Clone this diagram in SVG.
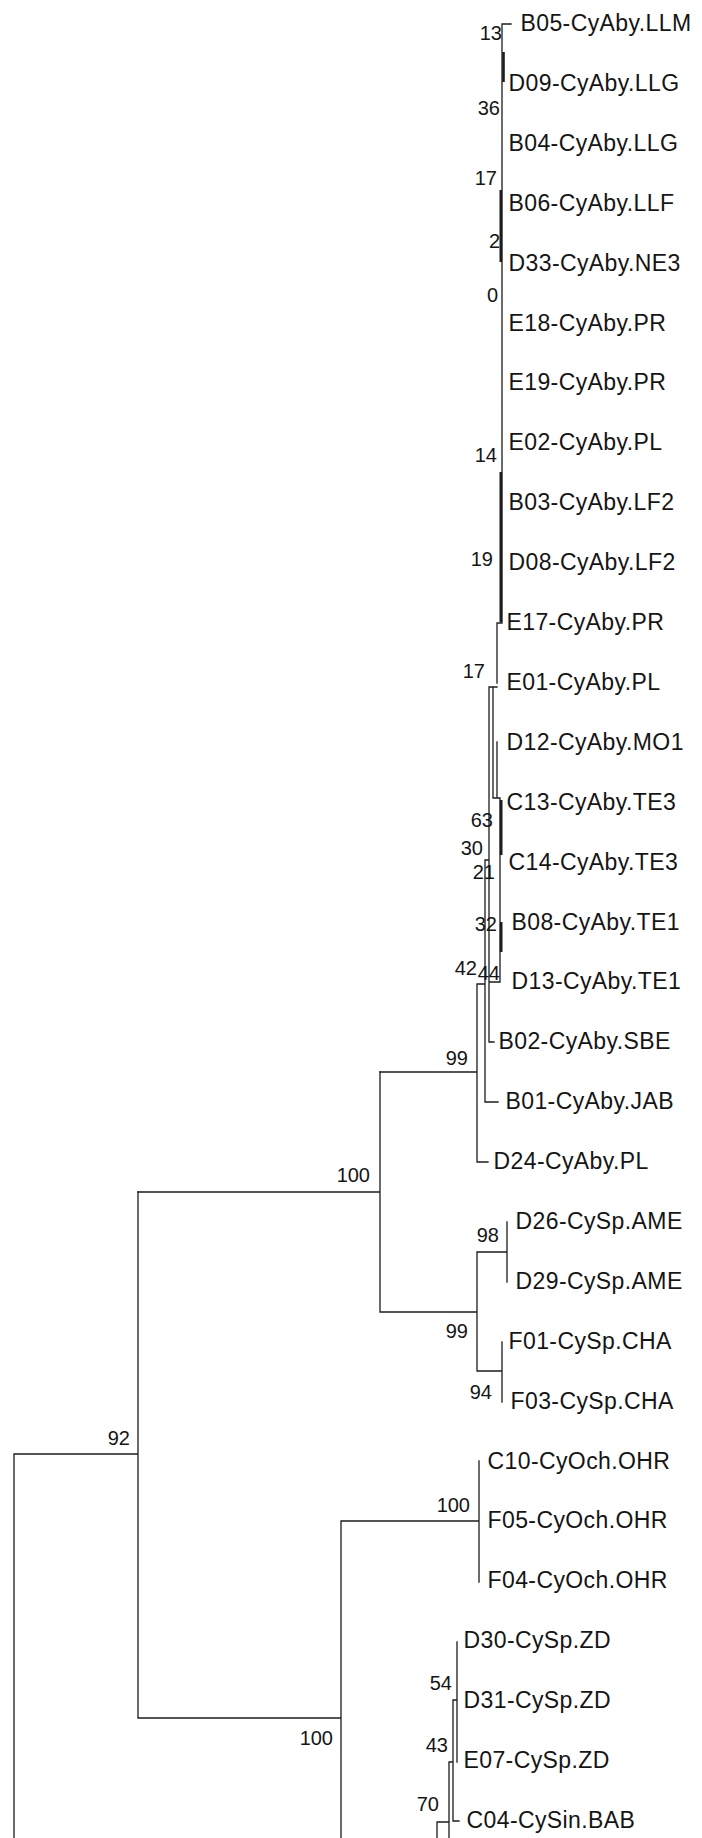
<svg xmlns="http://www.w3.org/2000/svg" width="702" height="1838" viewBox="0 0 702 1838">
<style>
.e{stroke:#1c1c1c;stroke-width:1.3;fill:none;stroke-linecap:square}
.t{stroke:#1c1c1c;stroke-width:2.6;fill:none}
.lf{font-family:"Liberation Sans",Arial,sans-serif;font-size:23px;letter-spacing:0.4px;fill:#151515}
.bs{font-family:"Liberation Sans",Arial,sans-serif;font-size:20px;fill:#151515;text-anchor:end}
</style>
<rect width="702" height="1838" fill="#fff"/>
<g id="connectors">
<!-- Abyssinicus clade -->
<path class="e" d="M511,24H502V623M497,623H502M497,623V683M489,687H497M489,687V1042H494M493,687V798H500M497,742V798M500,798V982H489M485,860H489M485,860V1102H498M477,984H485M477,984V1162H488M380,1072H477"/>
<path class="t" d="M503.5,52V82M500.8,190V262M500.8,472V622M501.2,800V855M501.2,922V952"/>
<!-- Sp AME / CHA -->
<path class="e" d="M380,1072V1312H477M138,1192H380M477,1252V1371M477,1252H507M507,1222V1282M477,1371H502M502,1342V1402"/>
<!-- Root and OHR -->
<path class="e" d="M138,1192V1718M14,1454H138M14,1454V1838M341,1521H479M479,1461V1582M138,1718H341M341,1521V1838"/>
<!-- ZD / BAB -->
<path class="e" d="M457,1642V1762M453,1700H457M453,1700V1821H459M449,1762H453M449,1762V1838M437,1822H449M437,1822V1838"/>
</g>
<g id="bootstrap">
<text class="bs" x="502" y="40">13</text>
<text class="bs" x="500" y="115">36</text>
<text class="bs" x="497" y="185">17</text>
<text class="bs" x="500" y="248">2</text>
<text class="bs" x="498" y="302">0</text>
<text class="bs" x="497" y="462">14</text>
<text class="bs" x="493" y="566">19</text>
<text class="bs" x="485" y="678">17</text>
<text class="bs" x="493" y="827">63</text>
<text class="bs" x="483" y="855">30</text>
<text class="bs" x="495" y="879">21</text>
<text class="bs" x="497" y="931">32</text>
<text class="bs" x="477" y="975">42</text>
<text class="bs" x="500" y="980">44</text>
<text class="bs" x="468" y="1065">99</text>
<text class="bs" x="370" y="1182">100</text>
<text class="bs" x="499" y="1242">98</text>
<text class="bs" x="468" y="1338">99</text>
<text class="bs" x="492" y="1399">94</text>
<text class="bs" x="130" y="1445">92</text>
<text class="bs" x="470" y="1512">100</text>
<text class="bs" x="333" y="1745">100</text>
<text class="bs" x="452" y="1690">54</text>
<text class="bs" x="448" y="1752">43</text>
<text class="bs" x="439" y="1811">70</text>
</g>
<g id="n-B05"><text class="lf" x="520.5" y="31">B05-CyAby.LLM</text></g>
<g id="n-D09"><text class="lf" x="508.5" y="91">D09-CyAby.LLG</text></g>
<g id="n-B04"><text class="lf" x="508.5" y="151">B04-CyAby.LLG</text></g>
<g id="n-B06"><text class="lf" x="508.5" y="211">B06-CyAby.LLF</text></g>
<g id="n-D33"><text class="lf" x="508.5" y="271">D33-CyAby.NE3</text></g>
<g id="n-E18"><text class="lf" x="508.5" y="330.5">E18-CyAby.PR</text></g>
<g id="n-E19"><text class="lf" x="508.5" y="390">E19-CyAby.PR</text></g>
<g id="n-E02"><text class="lf" x="508.5" y="450">E02-CyAby.PL</text></g>
<g id="n-B03"><text class="lf" x="508.5" y="510">B03-CyAby.LF2</text></g>
<g id="n-D08"><text class="lf" x="508.5" y="570">D08-CyAby.LF2</text></g>
<g id="n-E17"><text class="lf" x="506.5" y="630">E17-CyAby.PR</text></g>
<g id="n-E01"><text class="lf" x="506.5" y="690">E01-CyAby.PL</text></g>
<g id="n-D12"><text class="lf" x="506.5" y="750">D12-CyAby.MO1</text></g>
<g id="n-C13"><text class="lf" x="506.5" y="810">C13-CyAby.TE3</text></g>
<g id="n-C14"><text class="lf" x="508.5" y="870">C14-CyAby.TE3</text></g>
<g id="n-B08"><text class="lf" x="511.5" y="929.5">B08-CyAby.TE1</text></g>
<g id="n-D13"><text class="lf" x="511.5" y="989">D13-CyAby.TE1</text></g>
<g id="n-B02"><text class="lf" x="498.5" y="1049">B02-CyAby.SBE</text></g>
<g id="n-B01"><text class="lf" x="505.5" y="1109">B01-CyAby.JAB</text></g>
<g id="n-D24"><text class="lf" x="493.5" y="1169">D24-CyAby.PL</text></g>
<g id="n-D26"><text class="lf" x="515.5" y="1229">D26-CySp.AME</text></g>
<g id="n-D29"><text class="lf" x="515.5" y="1289">D29-CySp.AME</text></g>
<g id="n-F01"><text class="lf" x="508.5" y="1349">F01-CySp.CHA</text></g>
<g id="n-F03"><text class="lf" x="510.5" y="1409">F03-CySp.CHA</text></g>
<g id="n-C10"><text class="lf" x="487.5" y="1469">C10-CyOch.OHR</text></g>
<g id="n-F05"><text class="lf" x="487.5" y="1528">F05-CyOch.OHR</text></g>
<g id="n-F04"><text class="lf" x="487.5" y="1588">F04-CyOch.OHR</text></g>
<g id="n-D30"><text class="lf" x="463.5" y="1648">D30-CySp.ZD</text></g>
<g id="n-D31"><text class="lf" x="463.5" y="1708">D31-CySp.ZD</text></g>
<g id="n-E07"><text class="lf" x="463.5" y="1768">E07-CySp.ZD</text></g>
<g id="n-C04"><text class="lf" x="466.5" y="1828">C04-CySin.BAB</text></g>
</svg>
